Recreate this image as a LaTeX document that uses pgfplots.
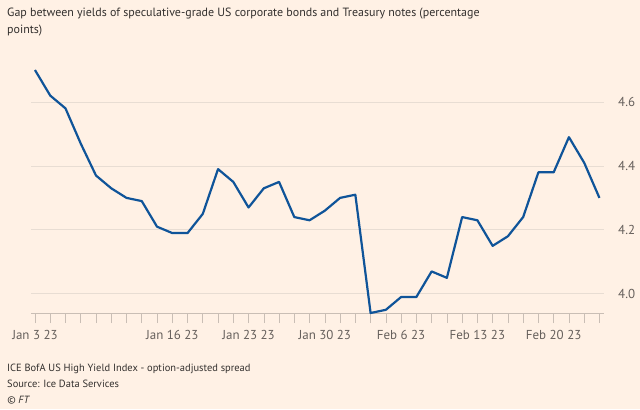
\documentclass[border=0pt]{standalone}
\usepackage{pgfplots}
\pgfplotsset{compat=1.18}
\usepackage{fontspec}
\setmainfont{PT Sans}
\definecolor{ftbg}{HTML}{FFF1E5}
\definecolor{ftblue}{HTML}{0F5499}
\definecolor{ftgrid}{HTML}{E8DDD3}
\definecolor{ftaxis}{HTML}{C9BEB5}
\definecolor{fttext}{HTML}{33302E}
\definecolor{fttick}{HTML}{66605C}
\pgfplotstableread{
i v
0 4.70
1 4.62
2 4.58
3 4.47
4 4.37
5 4.33
6 4.30
7 4.29
8 4.21
9 4.19
10 4.19
11 4.25
12 4.39
13 4.35
14 4.27
15 4.33
16 4.35
17 4.24
18 4.23
19 4.26
20 4.30
21 4.31
22 3.94
23 3.95
24 3.99
25 3.99
26 4.07
27 4.05
28 4.24
29 4.23
30 4.15
31 4.18
32 4.24
33 4.38
34 4.38
35 4.49
36 4.41
37 4.30
}\spread
\begin{document}
\begin{tikzpicture}[x=1bp,y=1bp]
\fill[ftbg] (0,0) rectangle (640,409);
\useasboundingbox (0,0) rectangle (640,409);
\node[anchor=base west, inner sep=0pt, text=fttext, font=\fontsize{12}{14}\selectfont] at (7,392) {Gap between yields of speculative-grade US corporate bonds and Treasury notes (percentage};
\node[anchor=base west, inner sep=0pt, text=fttext, font=\fontsize{12}{14}\selectfont] at (7,376) {points)};
\begin{axis}[
  at={(31bp,96bp)}, anchor=south west,
  scale only axis, width=573bp, height=251bp,
  xmin=-0.26, xmax=37.3, ymin=3.94, ymax=4.725,
  axis x line*=bottom, axis y line*=right,
  x axis line style={draw=ftaxis, line width=0.8pt, -},
  y axis line style={draw=none},
  xtick={0,9,14,19,24,29,34},
  xticklabels={Jan 3 23,Jan 16 23,Jan 23 23,Jan 30 23,Feb 6 23,Feb 13 23,Feb 20 23},
  minor xtick={0,...,37},
  tick align=outside,
  major tick length=10bp, minor tick length=10bp,
  xtick style={draw=ftaxis, line width=0.6pt},
  ytick style={draw=none},
  xticklabel style={font=\fontsize{13}{15}\selectfont, text=fttick, inner sep=0pt, anchor=base, yshift=-16bp},
  ytick={4.0,4.2,4.4,4.6},
  yticklabels={4.0,4.2,4.4,4.6},
  ymajorgrids,
  major grid style={draw=ftgrid, line width=0.8pt},
  yticklabel pos=right,
  yticklabel style={font=\fontsize{13}{15}\selectfont, text=fttick, inner sep=0pt, anchor=west, xshift=4bp},
  clip=false,
]
\addplot[ftblue, line width=2.2pt, line join=round] table[x=i,y=v] {\spread};
\end{axis}
\node[anchor=base west, inner sep=0pt, text=fttext, font=\fontsize{10.5}{12}\selectfont] at (7,38) {ICE BofA US High Yield Index - option-adjusted spread};
\node[anchor=base west, inner sep=0pt, text=fttext, font=\fontsize{10.5}{12}\selectfont] at (7,22) {Source: Ice Data Services};
\node[anchor=base west, inner sep=0pt, text=fttext, font=\fontsize{10.5}{12}\selectfont\itshape] at (7,6) {© FT};
\end{tikzpicture}
\end{document}
